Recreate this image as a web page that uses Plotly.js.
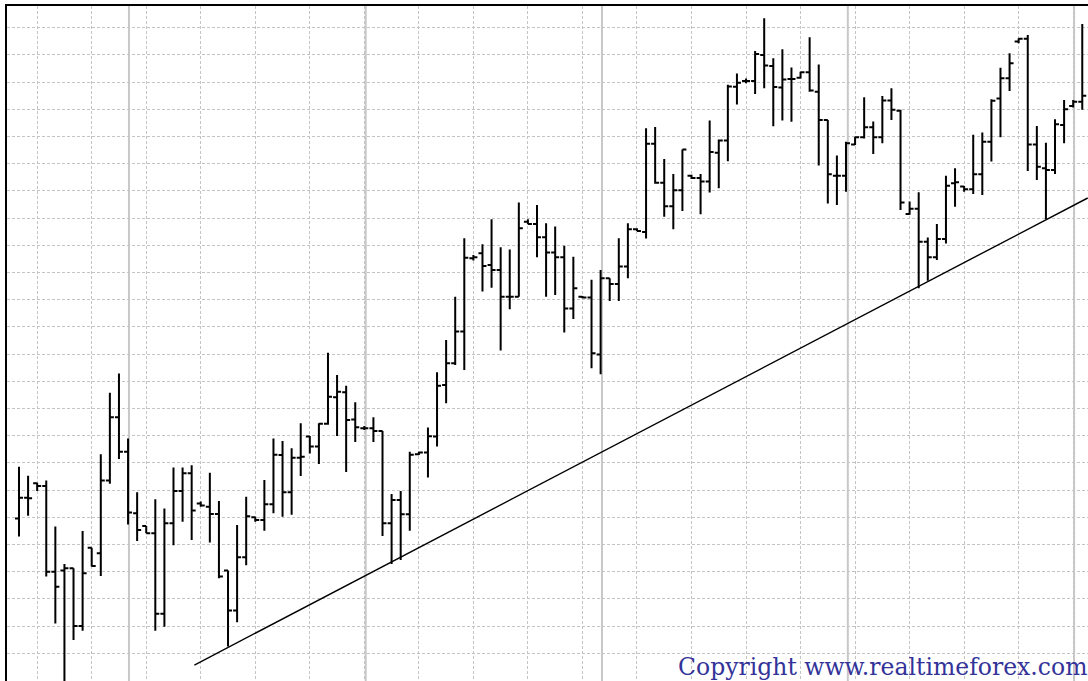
<!DOCTYPE html>
<html><head><meta charset="utf-8">
<script src="https://cdn.plot.ly/plotly-3.0.1.min.js"></script>
<style>html,body{margin:0;padding:0;background:#fff;overflow:hidden}#chart{width:1088px;height:681px}</style>
</head><body><div id="chart"></div>
<script>
const OPEN = [149.6,157.2,162.5,161.5,130.0,130.4,131.3,110.0,138.8,136.8,
163.5,186.8,174.1,151.5,146.8,144.1,114.5,147.8,159.7,166.2,
155.1,153.9,151.2,130.4,115.7,135.3,150.0,149.0,154.8,172.9,
159.2,171.9,179.7,176.0,184.4,194.1,196.0,186.0,182.7,182.7,
181.7,147.8,156.4,151.1,173.2,173.8,179.7,198.6,206.6,218.3,
245.2,247.1,242.8,240.9,231.1,231.1,258.7,257.8,253.0,247.4,
245.6,226.8,231.1,230.8,209.9,237.9,235.8,242.2,255.9,254.9,
287.3,273.0,264.4,270.2,275.6,274.7,273.5,284.0,288.5,308.3,
310.4,310.4,320.0,315.9,308.0,311.1,311.6,313.6,306.5,296.1,
275.6,275.6,287.1,289.7,293.4,289.7,303.2,299.5,261.5,263.4,
251.3,245.6,252.3,272.8,271.6,270.6,276.1,288.1,304.0,311.4,
324.9,325.9,287.1,278.3,277.7,294.2,301.2,302.8];
const HIGH = [168.6,165.3,162.7,163.5,146.6,132.8,131.3,145.0,138.8,173.2,
195.8,202.9,179.0,159.2,146.8,156.6,153.2,168.3,168.3,169.1,
155.8,166.4,156.0,130.4,147.2,157.6,150.2,163.7,179.0,178.1,
175.4,184.6,179.9,184.6,210.5,202.3,198.4,192.3,183.6,186.8,
181.7,158.6,159.7,174.1,174.1,183.0,203.3,215.2,231.1,252.6,
246.4,250.4,259.6,249.3,248.5,265.7,259.6,264.8,258.1,256.9,
249.8,245.8,231.4,237.3,240.9,237.9,252.6,258.1,256.3,293.0,
293.5,281.7,276.2,285.2,275.9,276.2,295.9,288.9,309.0,313.2,
311.3,321.4,333.5,318.8,322.1,315.4,313.8,326.5,316.5,296.1,
283.0,288.1,289.9,304.4,295.5,304.9,307.7,299.8,266.1,269.5,
252.9,257.8,275.6,278.3,271.8,290.6,291.5,303.7,315.3,320.6,
326.1,327.3,293.9,287.7,296.3,303.4,303.4,331.4];
const LOW = [142.9,150.6,159.7,128.2,111.0,88.0,104.9,108.3,131.9,128.4,
162.3,171.4,147.4,141.3,144.1,108.3,109.8,139.7,148.4,141.7,
153.9,140.7,127.6,102.5,111.4,132.4,148.4,145.1,151.5,150.2,
150.9,165.2,173.5,169.6,184.0,179.9,166.7,177.7,182.1,177.7,
143.1,132.8,134.3,145.1,172.9,164.6,176.0,191.9,206.0,204.2,
244.4,233.0,234.4,211.3,226.5,231.1,257.7,245.6,231.1,231.7,
217.9,222.9,230.5,204.8,202.6,229.5,229.5,237.9,255.3,252.5,
272.6,260.5,255.9,262.6,274.4,261.4,269.4,271.0,280.9,301.8,
309.6,305.6,307.7,293.8,295.9,295.4,311.3,306.5,279.3,265.4,
264.8,269.7,286.9,289.3,283.6,287.5,296.1,263.0,261.2,234.2,
237.0,244.6,250.7,264.2,269.7,268.9,268.5,280.8,289.7,306.7,
324.3,277.3,274.0,259.6,276.2,287.5,300.7,299.8];
const CLOSE = [157.2,157.0,161.5,130.0,124.5,131.3,110.0,129.4,132.1,163.5,
186.8,174.1,151.8,145.3,144.1,114.5,147.8,159.7,166.2,152.5,
154.3,151.2,128.2,115.7,135.3,150.4,149.0,154.8,173.0,159.2,
171.9,172.3,176.0,184.4,194.3,196.2,185.8,183.1,182.7,181.7,
147.8,156.4,151.1,173.0,173.8,179.8,198.4,206.6,218.3,245.4,
245.6,242.4,240.9,231.1,231.1,256.3,257.8,253.0,247.4,245.6,
226.8,234.2,230.8,210.3,237.9,235.8,242.2,255.9,255.3,287.3,
273.0,264.4,270.2,285.2,274.7,273.5,284.3,288.5,308.4,309.8,
310.4,320.3,316.1,308.2,311.0,311.1,313.6,306.9,296.1,276.1,
275.6,287.5,289.7,293.4,289.7,303.2,299.8,265.7,263.4,251.3,
245.6,252.3,271.9,273.2,270.6,276.1,288.1,303.1,311.4,316.9,
325.9,287.1,278.9,277.7,294.5,300.0,302.8,305.0];
const TREND_X = [19.3, 117.6];
const TREND_Y = [95.7, 267.4];
const SEPARATORS = [12.1, 38.15, 64.15, 91.2, 116.1];
const COPYRIGHT = 'Copyright www.realtimeforex.com';
const BAR = OPEN.map((_, i) => i);
const GRID_STEP = 6;
const GRID_X = [];
for (let v = 2; v < BAR.length; v += GRID_STEP) GRID_X.push(v);

const traces = [
  {type:'ohlc', x:BAR, open:OPEN, high:HIGH, low:LOW, close:CLOSE,
   increasing:{line:{color:'#000', width:2}}, decreasing:{line:{color:'#000', width:2}},
   tickwidth:0.44, hoverinfo:'skip', showlegend:false},
  {type:'scatter', mode:'lines', x:TREND_X, y:TREND_Y,
   line:{color:'#000', width:1.4}, hoverinfo:'skip', showlegend:false}
];
const layout = {
  width:1088, height:681, margin:{l:7, r:0, t:6, b:0, pad:0},
  paper_bgcolor:'#fff', plot_bgcolor:'#fff', showlegend:false, dragmode:false,
  xaxis:{type:'linear', range:[-1.32, 117.63], side:'top', showticklabels:false, ticks:'',
         tickmode:'array', tickvals:GRID_X,
         showgrid:true, gridcolor:'#c4c4c4', griddash:'3px,2px', gridwidth:1,
         zeroline:false, showline:true, linecolor:'#000', linewidth:2,
         rangeslider:{visible:false}, fixedrange:true},
  yaxis:{type:'linear', range:[89.82, 337.98], showticklabels:false, ticks:'',
         tickmode:'linear', tick0:100, dtick:10,
         showgrid:true, gridcolor:'#c4c4c4', griddash:'3px,2px', gridwidth:1,
         zeroline:false, showline:true, linecolor:'#000', linewidth:2, fixedrange:true},
  shapes: SEPARATORS.map(v => ({type:'line', xref:'x', yref:'paper', x0:v, x1:v, y0:0, y1:1,
         line:{color:'#c8c8c8', width:2}, layer:'below'})),
  annotations:[{xref:'paper', yref:'paper', x:1, y:0, xanchor:'right', yanchor:'bottom',
         text:COPYRIGHT, showarrow:false, xshift:0, yshift:-1, borderpad:0,
         font:{family:'DejaVu Serif', size:23.5, color:'#333399'}}]
};
Plotly.newPlot('chart', traces, layout, {displayModeBar:false, staticPlot:true});
</script>
</body></html>
